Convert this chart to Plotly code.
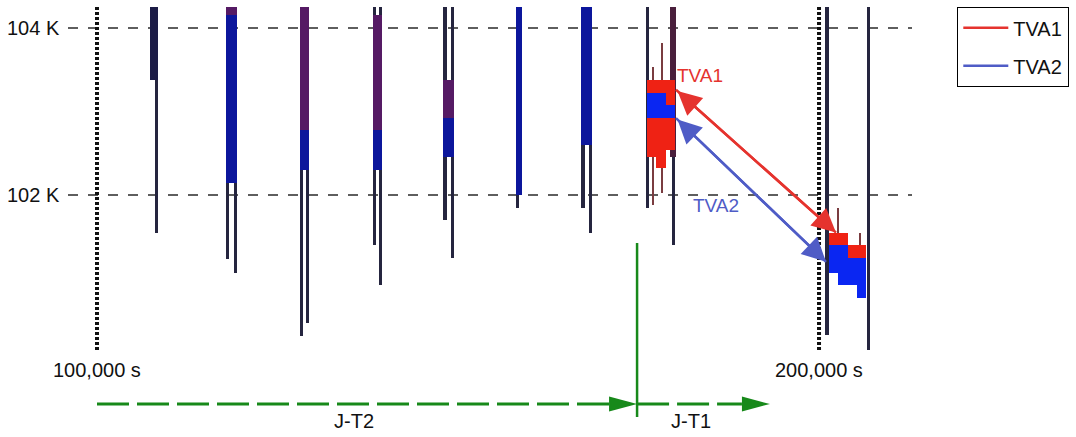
import plotly.graph_objects as go

# ------------------------------------------------------------------ data
K_TOP = 104.25                      # upper edge of the recorded traces (K)
K_REF = [104.0, 102.0]
K_REF_LABELS = ["104 K", "102 K"]
T_MARKS = [100000, 200000]
T_MARK_LABELS = ["100,000 s", "200,000 s"]
T_MARK_BOTTOM = 100.14

# individual thermometer traces: time (s) and lower end (K)
line_t = [107600, 108200, 118100, 119200, 128300, 129100, 138400, 139300,
          148200, 149200, 158200, 158600, 167300, 168400, 176200, 179800,
          201100, 206800]
line_bot = [103.38, 101.55, 101.23, 101.07, 100.31, 100.47, 101.40, 100.92,
            101.70, 101.25, 101.84, 102.00, 101.84, 101.55, 101.84, 101.40,
            100.32, 100.14]

# filled bands between trace pairs
fill_t0 = [107600, 118100, 118100, 128300, 128300, 138400, 138400, 148200, 148200, 158200, 167300]
fill_t1 = [108200, 119200, 119200, 129100, 129100, 139300, 139300, 149200, 149200, 158600, 168400]
fill_top = [104.25, 104.25, 104.16, 104.25, 102.78, 104.16, 102.78, 103.38, 102.92, 104.25, 104.25]
fill_bot = [103.38, 104.16, 102.14, 102.78, 102.30, 102.78, 102.30, 102.92, 102.46, 102.00, 102.60]
fill_kind = ["dark", "purple", "blue", "purple", "blue", "purple", "blue",
             "purple", "blue", "blue", "blue"]

# TVA columns
tva_t = [176870, 178110, 179360, 202020, 203310, 204580, 205870]
tva1_top = [103.38, 103.38, 103.38, 101.55, 101.55, 101.40, 101.40]
tva1_bot = [102.46, 102.32, 102.54, 101.40, 101.40, 101.25, 101.25]
tva2_top = [103.22, 103.22, 103.08, 101.40, 101.40, 101.25, 101.25]
tva2_bot = [102.92, 102.92, 102.92, 101.07, 100.92, 100.92, 100.77]

# thin whiskers
whisk_t = [177000, 178250, 202630, 205680]
whisk_top = [103.53, 103.82, 101.84, 101.55]
whisk_bot = [101.88, 102.02, 101.40, 101.25]

# thick upper part of the right trace in the first TVA group
hot_t = [179800]
hot_top = [104.25]
hot_bot = [102.46]

# TVA shift arrows (start time, start K, end time, end K)
tva1_arrow = [180190, 103.26, 202350, 101.55]
tva2_arrow = [180190, 102.92, 200970, 101.20]
tva_label_pos = [[183520, 103.43], [185730, 101.87]]

# phases
phase_bounds = [100000, 174800, 193200]
phase_labels = ["J-T2", "J-T1"]
phase_label_t = [135600, 182300]

# ------------------------------------------------------------------ style
X_RANGE = [86565, 235592]
Y_RANGE = [99.102, 104.335]
W, H = 1076, 437
S_PER_PX = (X_RANGE[1] - X_RANGE[0]) / W
K_PER_PX = (Y_RANGE[1] - Y_RANGE[0]) / H

FONT = "Liberation Sans, Arial, sans-serif"
FS = 20
LINE_C = "#25253f"
COLORS = {"dark": "#1c1c46", "purple": "#551a64", "blue": "#0c169c"}
RED = "#ef2214"
BLUE = "#0a26f2"
ARROW_RED = "#e5332e"
ARROW_BLUE = "#4f5cc6"
GREEN = "#17891a"

fig = go.Figure()


def bars(x, top, bot, width, color):
    fig.add_trace(go.Bar(
        x=x, base=bot, y=[t - b for t, b in zip(top, bot)], width=width,
        marker=dict(color=color, line=dict(width=0)),
        showlegend=False, hoverinfo="skip"))


# whiskers
bars(whisk_t, whisk_top, whisk_bot, [2 * S_PER_PX] * len(whisk_t), "#7a3c40")
# trace lines
bars(line_t, [K_TOP] * len(line_t), line_bot, [3.2 * S_PER_PX] * len(line_t), LINE_C)
# fills
for kind, col in COLORS.items():
    idx = [i for i, k in enumerate(fill_kind) if k == kind]
    bars([(fill_t0[i] + fill_t1[i]) / 2 for i in idx],
         [fill_top[i] for i in idx], [fill_bot[i] for i in idx],
         [(fill_t1[i] - fill_t0[i]) + 3.2 * S_PER_PX for i in idx], col)
bars(hot_t, hot_top, hot_bot, [6 * S_PER_PX], "#4a1f3c")
bars(tva_t, tva1_top, tva1_bot, [9.3 * S_PER_PX] * len(tva_t), RED)
bars(tva_t, tva2_top, tva2_bot, [9.3 * S_PER_PX] * len(tva_t), BLUE)

# TVA arrows (lines also serve as legend entries)
for name, arr, col, g in [("TVA1", tva1_arrow, ARROW_RED, "a"),
                          ("TVA2", tva2_arrow, ARROW_BLUE, "b")]:
    fig.add_trace(go.Scatter(x=[arr[0], arr[2]], y=[arr[1], arr[3]], mode="lines",
                             line=dict(color=col, width=2.5), name=name,
                             legendgroup=g, hoverinfo="skip"))
    fig.add_annotation(x=arr[2], y=arr[3], ax=arr[0], ay=arr[1], axref="x", ayref="y",
                       xref="x", yref="y", text="", showarrow=True,
                       arrowside="end+start", arrowhead=2, startarrowhead=2,
                       arrowsize=1.9, startarrowsize=1.9, arrowwidth=2.5,
                       arrowcolor=col, standoff=0, startstandoff=0)

for (tx, ty), txt, col in zip(tva_label_pos, ["TVA1", "TVA2"], [ARROW_RED, ARROW_BLUE]):
    fig.add_annotation(x=tx, y=ty, text=txt, showarrow=False,
                       font=dict(family=FONT, size=FS - 1, color=col))

shapes = []
# reference (dashed) levels
for k in K_REF:
    shapes.append(dict(type="line", xref="x", yref="y", layer="below",
                       x0=X_RANGE[0] + 68 * S_PER_PX, x1=X_RANGE[0] + 912 * S_PER_PX,
                       y0=k, y1=k, line=dict(color="#2a2a2a", width=1.3, dash="10px,10px")))
# dotted time marks
for t in T_MARKS:
    shapes.append(dict(type="line", xref="x", yref="y", layer="below",
                       x0=t, x1=t, y0=K_TOP, y1=T_MARK_BOTTOM,
                       line=dict(color="#111111", width=4, dash="3px,2px")))

# phase arrows
K_PHASE = Y_RANGE[0] + (H - 404) * K_PER_PX
K_PHASE_LABEL = Y_RANGE[0] + (H - 421) * K_PER_PX
HEAD_LEN = 28
for t0, t1 in zip(phase_bounds[:-1], phase_bounds[1:]):
    shapes.append(dict(type="line", xref="x", yref="y", x0=t0, x1=t1 - HEAD_LEN * S_PER_PX,
                       y0=K_PHASE, y1=K_PHASE,
                       line=dict(color=GREEN, width=3, dash="32px,8px")))
    shapes.append(dict(type="path", xref="x", yref="y", xsizemode="pixel", ysizemode="pixel",
                       xanchor=t1, yanchor=K_PHASE,
                       path=f"M0,0 L-{HEAD_LEN},7.5 L-{HEAD_LEN},-7.5 Z",
                       fillcolor=GREEN, line=dict(width=0)))
# phase boundary
shapes.append(dict(type="line", xref="x", yref="y", x0=phase_bounds[1], x1=phase_bounds[1],
                   y0=Y_RANGE[0] + (H - 243) * K_PER_PX, y1=Y_RANGE[0] + (H - 417) * K_PER_PX,
                   line=dict(color=GREEN, width=2.5)))

annotations = []
for k, lab in zip(K_REF, K_REF_LABELS):
    annotations.append(dict(x=X_RANGE[0] + 62 * S_PER_PX, y=k, xref="x", yref="y", text=lab,
                            xanchor="right", showarrow=False,
                            font=dict(family=FONT, size=FS, color="#111111")))
for t, lab in zip(T_MARKS, T_MARK_LABELS):
    annotations.append(dict(x=t, y=Y_RANGE[0] + (H - 370) * K_PER_PX, xref="x", yref="y",
                            text=lab, showarrow=False,
                            font=dict(family=FONT, size=FS, color="#111111")))
for t, lab in zip(phase_label_t, phase_labels):
    annotations.append(dict(x=t, y=K_PHASE_LABEL, xref="x", yref="y", text=lab,
                            showarrow=False, font=dict(family=FONT, size=FS, color="#111111")))

fig.update_layout(
    width=W, height=H, margin=dict(l=0, r=0, t=0, b=0),
    paper_bgcolor="white", plot_bgcolor="white",
    barmode="overlay", bargap=0,
    xaxis=dict(range=X_RANGE, visible=False, fixedrange=True),
    yaxis=dict(range=Y_RANGE, visible=False, fixedrange=True),
    shapes=shapes,
    showlegend=True,
    legend=dict(x=957 / W, y=1 - 7 / H, xanchor="left", yanchor="top",
                bordercolor="#000000", borderwidth=1.3, bgcolor="white",
                font=dict(family=FONT, size=FS, color="#111111"),
                itemwidth=45, entrywidth=125,
                traceorder="grouped", tracegroupgap=9),
)
for a in annotations:
    fig.add_annotation(**a)

fig.write_html("out.html")
